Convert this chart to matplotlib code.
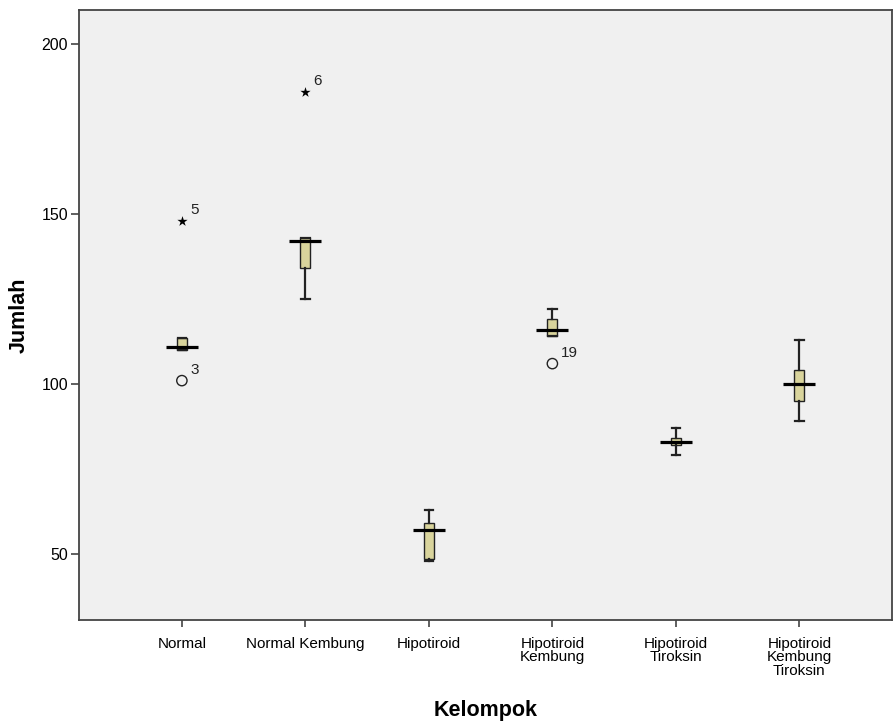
import matplotlib
matplotlib.use("Agg")
import matplotlib.pyplot as plt

plt.rcParams['font.family'] = ['Liberation Sans', 'DejaVu Sans']

# group labels and box statistics
groups = ["Normal", "Normal Kembung", "Hipotiroid", "Hipotiroid\nKembung",
          "Hipotiroid\nTiroksin", "Hipotiroid\nKembung\nTiroksin"]
whislo = [110, 125, 48, 114, 79, 89]
q1 = [110, 134, 48.5, 114, 82, 95]
med = [111, 142, 57, 116, 83, 100]
q3 = [113.5, 143, 59, 119, 84, 104]
whishi = [113.5, 143, 63, 122, 87, 113]

# outliers: (group index, value, case label)
circle_grp = [0, 3]
circle_val = [101, 106]
circle_lbl = ["3", "19"]
star_grp = [0, 1]
star_val = [148, 186]
star_lbl = ["5", "6"]

BOX_FILL = "#d9d49c"
BG = "#f0f0f0"
DARK = "#222222"

fig = plt.figure(figsize=(8.93, 7.22), dpi=100)
ax = fig.add_axes([79 / 893, 102 / 722, 813 / 893, 610 / 722])
ax.set_facecolor(BG)

pos = list(range(1, len(groups) + 1))
stats = []
for i in range(len(groups)):
    stats.append(dict(med=med[i], q1=q1[i], q3=q3[i],
                      whislo=whislo[i], whishi=whishi[i], fliers=[]))

ax.bxp(stats, positions=pos, widths=0.08, patch_artist=True,
       showfliers=False,
       boxprops=dict(facecolor=BOX_FILL, edgecolor=DARK, linewidth=1.0),
       whiskerprops=dict(color=DARK, linewidth=1.6),
       capprops=dict(color=DARK, linewidth=1.6),
       capwidths=0.07,
       medianprops=dict(linewidth=0))

# wide SPSS-style median bars
ax.hlines(med, [p - 0.13 for p in pos], [p + 0.13 for p in pos],
          colors="black", linewidth=2.3, zorder=4)

# outliers
cx = [pos[g] for g in circle_grp]
ax.scatter(cx, circle_val, s=55, facecolors="none", edgecolors=DARK,
           linewidths=1.0, zorder=5)
for x, v, t in zip(cx, circle_val, circle_lbl):
    ax.annotate(t, (x, v), xytext=(6, 5), textcoords="offset points",
                fontsize=11, color=DARK)
sx = [pos[g] for g in star_grp]
ax.scatter(sx, star_val, marker="*", s=60, color="black",
           linewidths=0, zorder=5)
for x, v, t in zip(sx, star_val, star_lbl):
    ax.annotate(t, (x, v), xytext=(6, 5), textcoords="offset points",
                fontsize=11, color=DARK)

ax.set_xlim(1 - 0.833, 6 + 0.75)
ax.set_ylim(30.6, 210)
ax.set_yticks([50, 100, 150, 200])
ax.set_xticks(pos)
ax.set_xticklabels(groups, fontsize=11, linespacing=0.95)
ax.tick_params(axis="y", labelsize=11.5, length=6, width=1.2,
               color="#444444", pad=2)
ax.tick_params(axis="x", length=5, width=1.2, color="#444444", pad=7)
for s in ax.spines.values():
    s.set_color("#444444")
    s.set_linewidth(1.3)

ax.set_ylabel("Jumlah", fontsize=15.5, fontweight="bold", labelpad=8)
ax.set_xlabel("Kelompok", fontsize=15.5, fontweight="bold", labelpad=16)

fig.savefig("out.png", dpi=100, facecolor="white")
